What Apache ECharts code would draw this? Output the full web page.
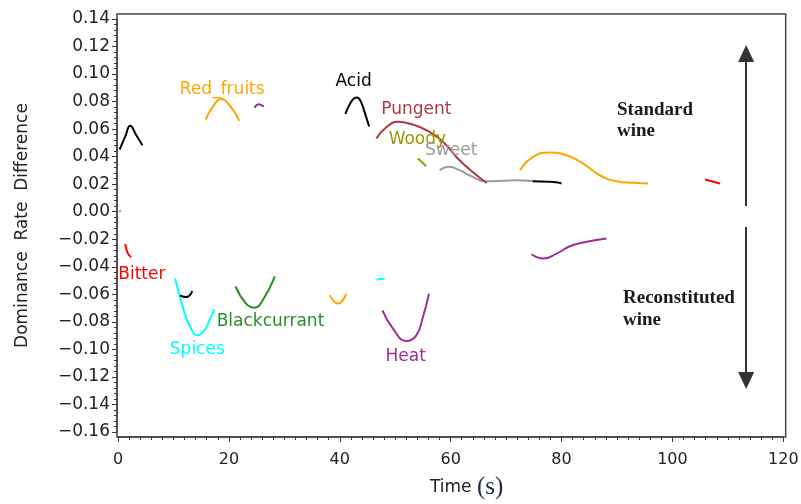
<!DOCTYPE html>
<html><head><meta charset="utf-8">
<script src="https://cdn.jsdelivr.net/npm/echarts@6/dist/echarts.min.js"></script>
<style>html,body{margin:0;padding:0;background:#fff}#c{width:801px;height:504px}</style>
</head><body><div id="c"></div>
<script>
// ---- tick labels ----
const xTicks = [0, 20, 40, 60, 80, 100, 120];
const yTicks = [-0.16, -0.14, -0.12, -0.10, -0.08, -0.06, -0.04, -0.02, 0.00, 0.02, 0.04, 0.06, 0.08, 0.10, 0.12, 0.14];

// ---- curves: [time (s), dominance rate difference] ----
const acidStart = [[0.3,0.0452],[1.3,0.0545],[2.2,0.0625],[3.3,0.0555],[4.4,0.0483]];
const redFruits = [[15.8,0.067],[17.1,0.0762],[18.6,0.0818],[20.1,0.0774],[21.9,0.066]];
const purpleTop = [[24.6,0.0755],[25.4,0.078],[26.3,0.0762]];
const acid = [[41.0,0.071],[41.8,0.078],[42.5,0.082],[43.1,0.083],[43.8,0.080],[44.5,0.072],[45.3,0.062]];
const pungent = [[46.6,0.0532],[48.3,0.061],[50.5,0.0653],[53.0,0.0635],[55.6,0.0593],[58.6,0.0508],[61.6,0.0374],[64.7,0.0265],[66.5,0.0209]];
const woody = [[54.1,0.0387],[55.6,0.0331]];
const woodyStart = [[0.2,0.0008],[0.5,0.0002]];
const sweet = [[58.0,0.0302],[59.8,0.0326],[61.6,0.0302],[64.0,0.0253],[66.2,0.0222],[68.9,0.0224],[71.9,0.0229],[74.8,0.0224]];
const acidTail = [[74.8,0.0222],[77.5,0.0218],[79.3,0.0212],[80.0,0.0205]];
const redFruitsLate = [[72.5,0.0302],[74.9,0.0399],[77.9,0.043],[80.9,0.041],[83.9,0.035],[86.9,0.0265],[89.9,0.0222],[92.9,0.021],[95.6,0.0205]];
const bitterLate = [[105.9,0.0234],[108.6,0.0205]];
const heatLate = [[74.6,-0.0309],[76.7,-0.034],[79.1,-0.0304],[81.5,-0.0251],[83.9,-0.0224],[88.1,-0.0195]];
const bitter = [[1.3,-0.0236],[1.8,-0.0304],[2.4,-0.0329]];
const spices = [[10.3,-0.0486],[11.7,-0.0692],[12.9,-0.0825],[14.4,-0.0898],[15.6,-0.0862],[16.5,-0.0789],[17.4,-0.0709]];
const acidLow = [[11.2,-0.0607],[12.3,-0.062],[13.4,-0.0576]];
const blackcurrant = [[21.2,-0.0542],[23.1,-0.0667],[24.6,-0.0697],[26.1,-0.0643],[28.3,-0.0469]];
const redFruitsLow = [[38.2,-0.0607],[39.7,-0.0667],[41.2,-0.0595]];
const spicesLate = [[46.6,-0.0493],[48.1,-0.0486]];
const heat = [[47.7,-0.0716],[49.6,-0.0849],[52.0,-0.0939],[53.8,-0.0898],[55.0,-0.0765],[56.1,-0.0595]];

const C = {
  black:'#000000', orange:'#FFA500', purple:'#9A2E9A', pungent:'#B03A3A',
  olive:'#999900', grey:'#9A9A9A', red:'#FF0000', cyan:'#00FFFF', green:'#2A8C2A'
};

const curves = [
  [acidStart, C.black], [redFruits, C.orange], [purpleTop, C.purple], [acid, C.black],
  [sweet, C.grey], [pungent, C.pungent], [woody, C.olive], [woodyStart, C.olive],
  [acidTail, C.black], [redFruitsLate, C.orange], [bitterLate, C.red], [heatLate, C.purple],
  [bitter, C.red], [spices, C.cyan], [acidLow, C.black], [blackcurrant, C.green],
  [redFruitsLow, C.orange], [spicesLate, C.cyan], [heat, C.purple]
];

const FONT = '"DejaVu Sans", sans-serif';
const series = curves.map(([d, col]) => ({
  type:'line', data:d, smooth:0.5, symbol:'none', silent:true,
  lineStyle:{color:col, width:2}, z:3
}));

const lbl = (name, x, y, color) => ({name, value:[x, y], label:{color}});
series.push({
  type:'scatter', symbolSize:1, silent:true, itemStyle:{color:'rgba(0,0,0,0)', opacity:1}, z:5,
  label:{show:true, position:'inside', formatter:'{b}', fontSize:17, fontFamily:FONT, opacity:1},
  labelLayout:{hideOverlap:false},
  data:[
    lbl('Red_fruits', 18.8, 0.0885, C.orange),
    lbl('Acid', 42.5, 0.0943, C.black),
    lbl('Pungent', 53.8, 0.0745, C.pungent),
    lbl('Woody', 54.0, 0.0521, C.olive),
    lbl('Sweet', 60.1, 0.0442, C.grey),
    lbl('Bitter', 4.3, -0.0459, C.red),
    lbl('Spices', 14.3, -0.1003, C.cyan),
    lbl('Blackcurrant', 27.5, -0.080, C.green),
    lbl('Heat', 51.9, -0.1052, C.purple)
  ]
});

// direction arrows (annotation)
series.push({
  type:'line', data:[], silent:true,
  markLine:{
    silent:true, symbol:['none','triangle'], symbolSize:[16,17],
    label:{show:false}, lineStyle:{color:'#333', width:2, type:'solid'},
    data:[
      [{coord:[113.3, 0.0042]}, {coord:[113.3, 0.1149]}],
      [{coord:[113.3, -0.011]}, {coord:[113.3, -0.1225]}]
    ]
  }
});

const fmtY = v => (v < -1e-9 ? '\u2212' : '') + Math.abs(v).toFixed(2);

const chart = echarts.init(document.getElementById('c'), null, {renderer:'canvas'});
chart.setOption({
  animation:false,
  backgroundColor:'#ffffff',
  grid:{left:118, right:17.7, top:19, bottom:72, containLabel:false, outerBoundsMode:'none'},
  xAxis:{
    type:'value', min:xTicks[0], max:xTicks[xTicks.length-1], interval:xTicks[1]-xTicks[0], offset:5,
    axisLine:{show:true, onZero:false, lineStyle:{color:'#444', width:1.5}},
    axisTick:{show:true, length:5, lineStyle:{color:'#333', width:1}},
    minorTick:{show:true, splitNumber:10, length:3, lineStyle:{color:'#333', width:1}},
    splitLine:{show:false}, minorSplitLine:{show:false},
    axisLabel:{color:'#222', fontSize:16, fontFamily:FONT, margin:15},
    name:'{t|Time }{s|(s)}', nameLocation:'middle', nameGap:38,
    nameTextStyle:{padding:[0,0,0,32], rich:{
      t:{fontSize:17, fontFamily:FONT, color:'#222'},
      s:{fontSize:25, fontFamily:'"Liberation Serif", serif', color:'#1c2b48'}
    }}
  },
  yAxis:{
    type:'value', min:yTicks[0], max:yTicks[yTicks.length-1], interval:0.02, offset:1,
    axisLine:{show:true, onZero:false, lineStyle:{color:'#444', width:1.5}},
    axisTick:{show:true, length:5, lineStyle:{color:'#333', width:1}},
    minorTick:{show:true, splitNumber:5, length:3, lineStyle:{color:'#333', width:1}},
    splitLine:{show:false}, minorSplitLine:{show:false},
    axisLabel:{color:'#222', fontSize:17, fontFamily:FONT, margin:7, formatter:fmtY},
    name:'Dominance  Rate  Difference', nameLocation:'middle', nameGap:86,
    nameTextStyle:{fontSize:17, fontFamily:FONT, color:'#222'}
  },
  graphic:[
    {type:'rect', silent:true, z:10, shape:{x:117, y:14, width:668.7, height:423},
     style:{fill:'none', stroke:'#444', lineWidth:1.5}},
    {type:'text', silent:true, x:617, y:100,
     style:{text:'Standard\nwine', font:'bold 19px "Liberation Serif", serif', fill:'#1a1a1a', lineHeight:21}},
    {type:'text', silent:true, x:623, y:287,
     style:{text:'Reconstituted\nwine', font:'bold 19px "Liberation Serif", serif', fill:'#1a1a1a', lineHeight:22}}
  ],
  series
});
</script>
</body></html>
